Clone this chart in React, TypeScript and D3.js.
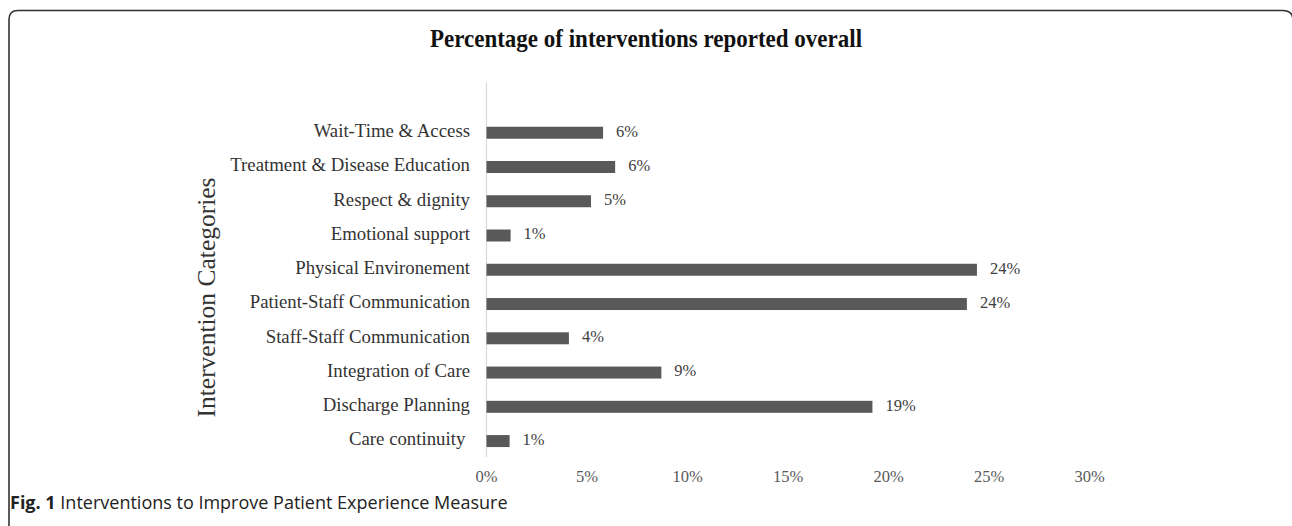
import React from "react";
import * as d3 from "d3";

const categories = [
  "Wait-Time & Access",
  "Treatment & Disease Education",
  "Respect & dignity",
  "Emotional support",
  "Physical Environement",
  "Patient-Staff Communication",
  "Staff-Staff Communication",
  "Integration of Care",
  "Discharge Planning",
  "Care continuity ",
];
const values = [5.8, 6.4, 5.2, 1.2, 24.4, 23.9, 4.1, 8.7, 19.2, 1.15];
const xTicks = [0, 5, 10, 15, 20, 25, 30];

const W = 1292;
const H = 526;

export default function App() {
  const x = d3.scaleLinear().domain([0, 30]).range([486.5, 1089.5]);
  const y = d3
    .scaleBand<string>()
    .domain(categories)
    .range([115.6, 458.2])
    .paddingInner(0.65)
    .paddingOuter(0.325);
  const fmt = (v: number) => d3.format(".0f")(v) + "%";
  const serif = "'Liberation Serif', 'Times New Roman', serif";
  const r = 9;
  const frame = `M9,${H} L9,${10.5 + r} Q9,10.5 ${9 + r},10.5 L1283,10.5 Q1293,10.5 1293,20.5 L1293,${H}`;
  return (
    <div style={{ position: "absolute", left: 0, top: 0 }}>
      <svg width={W} height={H} style={{ display: "block", background: "#fff" }}>
        <path d={frame} fill="none" stroke="#333" strokeWidth={1.6} />
        <text
          transform="translate(646,41) scale(0.92,1)"
          textAnchor="middle"
          dominantBaseline="middle"
          fontFamily={serif}
          fontWeight="bold"
          fontSize={25}
          fill="#111"
        >
          Percentage of interventions reported overall
        </text>
        <line x1={x(0)} x2={x(0)} y1={82} y2={457} stroke="#d9d9d9" strokeWidth={1.2} />
        {categories.map((c, i) => {
          const yc = (y(c) as number) + y.bandwidth() / 2;
          return (
            <g key={c}>
              <rect
                x={x(0)}
                y={y(c) as number}
                width={x(values[i]) - x(0)}
                height={y.bandwidth()}
                fill="#595959"
              />
              <text
                x={470}
                y={yc}
                textAnchor="end"
                dominantBaseline="middle"
                fontFamily={serif}
                fontSize={18.8}
                fill="#333"
                style={{ whiteSpace: "pre" }}
              >
                {c}
              </text>
              <text
                x={x(values[i]) + 13}
                y={yc}
                dominantBaseline="middle"
                fontFamily={serif}
                fontSize={16.5}
                fill="#404040"
              >
                {fmt(values[i])}
              </text>
            </g>
          );
        })}
        {xTicks.map((t) => (
          <text
            key={t}
            x={x(t)}
            y={478}
            textAnchor="middle"
            dominantBaseline="middle"
            fontFamily={serif}
            fontSize={16.5}
            fill="#595959"
          >
            {t + "%"}
          </text>
        ))}
        <text
          transform={`translate(209,297.5) rotate(-90)`}
          textAnchor="middle"
          dominantBaseline="middle"
          fontFamily={serif}
          fontSize={25.5}
          fill="#333"
        >
          Intervention Categories
        </text>
        <text x={10} y={509} fontFamily="'Open Sans', 'Noto Sans', sans-serif" fontSize={18} fill="#222">
          <tspan fontWeight="bold">Fig. 1</tspan>
          <tspan> Interventions to Improve Patient Experience Measure</tspan>
        </text>
      </svg>
    </div>
  );
}
